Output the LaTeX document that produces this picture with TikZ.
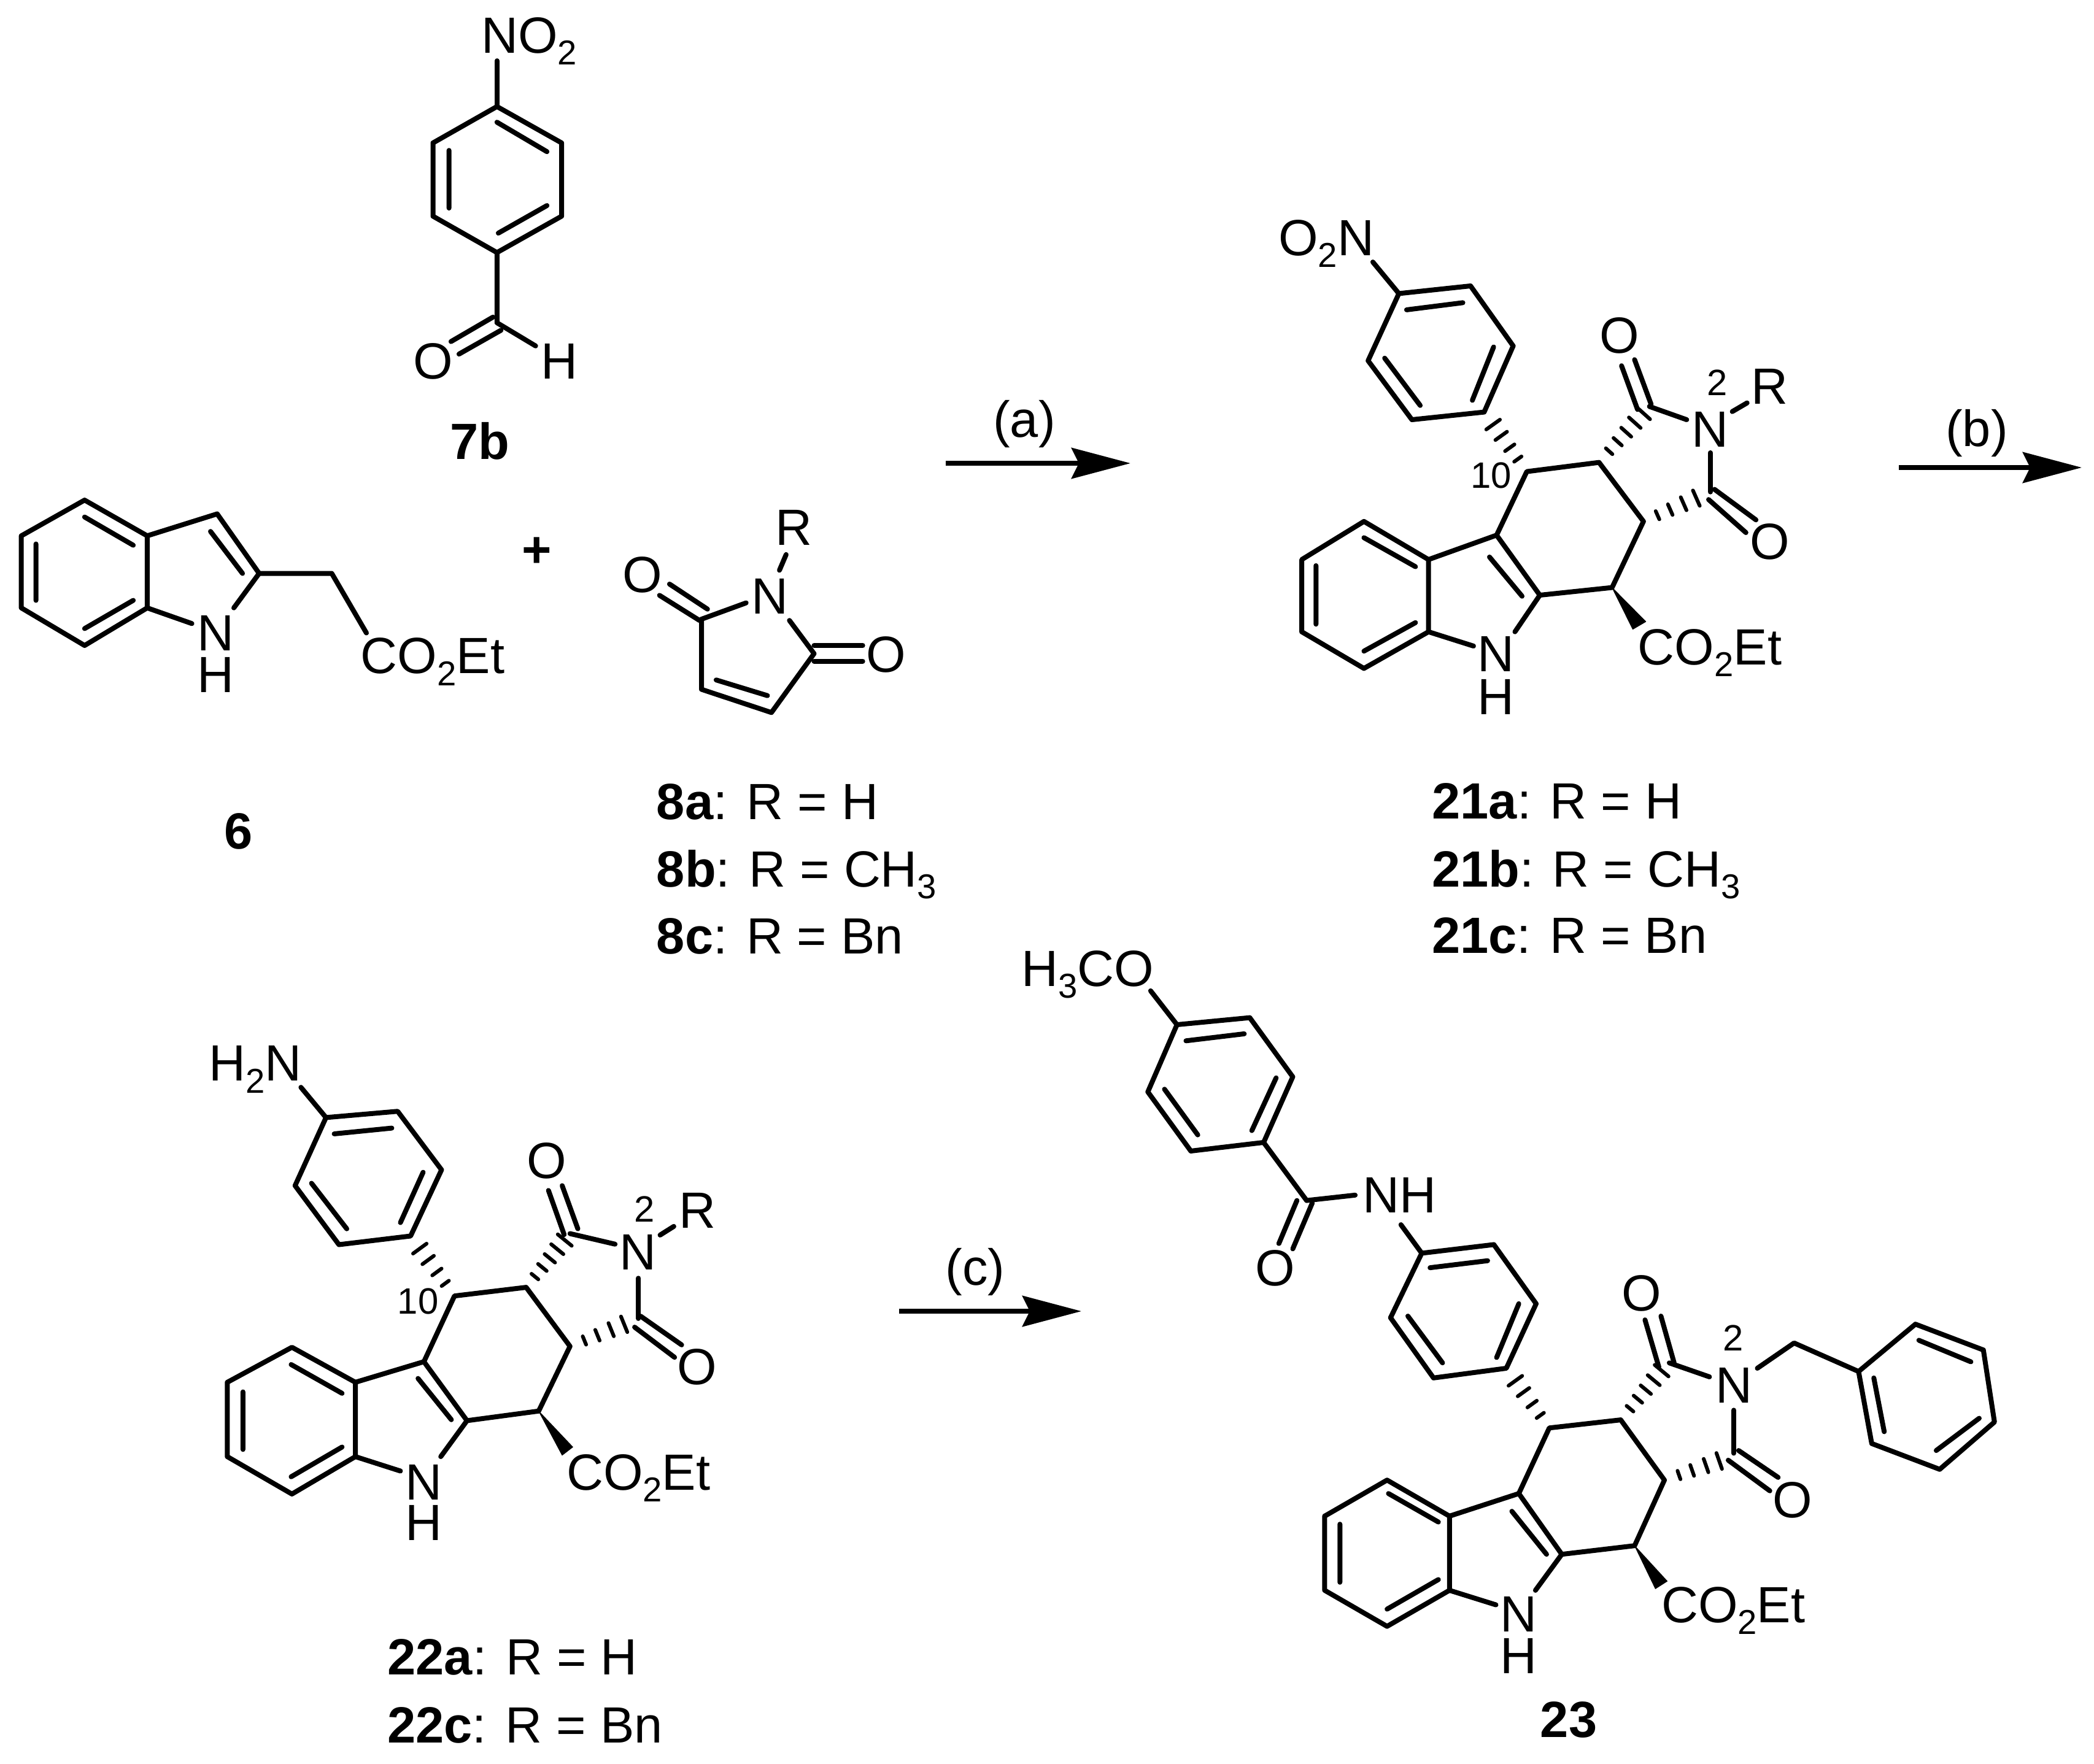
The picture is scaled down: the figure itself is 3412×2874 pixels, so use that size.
\documentclass[tikz,border=0pt]{standalone}
\usepackage{fontspec}
\setmainfont{Liberation Sans}
\usetikzlibrary{calc,arrows.meta}
\newcommand{\lab}{\fontsize{23.6pt}{28pt}\selectfont}
\newcommand{\lsm}{\fontsize{17pt}{18pt}\selectfont}
\newcommand{\sbs}[1]{\raisebox{-0.19cm}{\fontsize{16pt}{17pt}\selectfont #1}}
\newcommand{\hashb}[3]{%
  \foreach \t in #3{%
    \pgfmathsetmacro{\hw}{0.05+0.11*\t}
    \coordinate (hc) at ($(#1)!\t!(#2)$);
    \draw[hashline] ($(hc)!{\hw*1cm}!90:(#2)$) -- ($(hc)!{\hw*1cm}!-90:(#2)$);
  }}
\newcommand{\hfour}{0.21,0.40,0.60,0.79}
\newcommand{\hfive}{0.2,0.37,0.54,0.71,0.88}
\tikzset{
  bond/.style={line width=0.08cm,line cap=round,line join=round},
  hashline/.style={line width=0.06cm,line cap=round},
  wedgefill/.style={fill=black,draw=black,line width=0.01cm,line join=round},
  rxn/.style={line width=0.08cm,-{Stealth[length=0.96cm,width=0.5cm,inset=0.12cm]}},
  atom/.style={inner sep=0pt,anchor=base,font=\lab},
  atomw/.style={inner sep=0pt,anchor=base west,font=\lab},
  num/.style={inner sep=0pt,anchor=base,font=\lsm},
  cpd/.style={inner sep=0pt,anchor=base,font=\lab\bfseries},
  captn/.style={inner sep=0pt,anchor=base west,font=\lab},
}
\begin{document}
\begin{tikzpicture}[x=0.01cm,y=-0.01cm]
\useasboundingbox (0,0) rectangle (3412,2874);
\fill[white] (0,0) rectangle (3412,2874);

% ---------- arrows (full-size pixels)
\coordinate (a1) at (1541,755); \coordinate (a2) at (1842,755);
\coordinate (b1) at (3094,762); \coordinate (b2) at (3392,762);
\coordinate (c1) at (1465,2137); \coordinate (c2) at (1762,2137);
\draw[rxn] (a1) -- (a2);
\draw[rxn] (b1) -- (b2);
\draw[rxn] (c1) -- (c2);
\node[atom] (la) at (1669,712) {(a)};
\node[atom] (lb) at (3221,727) {(b)};
\node[atom] (lc) at (1589,2094) {(c)};

% ---------- 7b, 6, 8
\begin{scope}[x=0.010842cm,y=-0.010204cm]
\node[atomw] (gno) at (722,85) {NO\sbs{2}};
\node[atom] (gh) at (840,605) {H};
\node[atom] (go) at (650,605) {O};
\node[cpd] (g7b) at (720,733) {7b};
\draw[bond] (746,97) -- (746,170);
\draw[bond] (746,170) -- (843,228) -- (843,345) -- (746,403) -- (650,345) -- (650,228) -- cycle;
\draw[bond] (746,195) -- (821,242) (821,328) -- (748,372) (674,240) -- (674,332);
\draw[bond] (746,403) -- (746,515) -- (804,552);
\draw[bond] (740,506) -- (677,545) (752,527) -- (689,565);

\node[atom] (in) at (324,1038) {N};
\node[atom] (ih) at (324,1105) {H};
\node[atomw] (ic) at (541,1075) {CO\sbs{2}Et};
\node[cpd] (i6) at (358,1355) {6};
\draw[bond] (127,798) -- (221,855) -- (221,970) -- (127,1030) -- (32,970) -- (32,855) -- cycle;
\draw[bond] (127,825) -- (200,870) (200,958) -- (127,1003) (54,868) -- (54,958);
\draw[bond] (221,855) -- (326,820) -- (389,915) -- (351,970);
\draw[bond] (221,970) -- (288,995);
\draw[bond] (316,848) -- (364,915);
\draw[bond] (389,915) -- (498,915) -- (550,1010);
\node[cpd] (plus) at (806,905) {+};

\node[atom] (mr) at (1192,870) {R};
\node[atom] (mn) at (1156,980) {N};
\node[atom] (mo1) at (964,945) {O};
\node[atom] (mo2) at (1330,1073) {O};
\draw[bond] (1180,885) -- (1170,910);
\draw[bond] (1120,962) -- (1053,988) -- (1053,1100) -- (1158,1137) -- (1222,1043) -- (1185,990);
\draw[bond] (1075,1085) -- (1152,1110);
\draw[bond] (1005,932) -- (1062,972) (990,950) -- (1050,990);
\draw[bond] (1222,1030) -- (1295,1030) (1222,1055) -- (1295,1055);
\node[captn] (l8a) at (985,1308) {\textbf{8a}: R = H};
\node[captn] (l8b) at (985,1415) {\textbf{8b}: R = CH\sbs{3}};
\node[captn] (l8c) at (985,1522) {\textbf{8c}: R = Bn};
\end{scope}

% ---------- 21
\begin{scope}[xshift=19cm,yshift=-3cm,x=0.009643cm,y=-0.00829cm]
\coordinate (pa) at (536,448); \coordinate (p10) at (608,565); \coordinate (p11) at (730,547);
\coordinate (p12) at (805,663); \coordinate (p13) at (752,793); \coordinate (p14) at (630,808);
\coordinate (p15) at (557,690); \coordinate (pc1) at (815,437); \coordinate (pc2) at (918,605);
\node[atomw] (po2n) at (188,140) {O\sbs{2}N};
\node[atom] (po1) at (764,332) {O};
\node[atom] (pn2) at (918,517) {N};
\node[num] (p2) at (930,415) {2};
\node[atom] (pr) at (1018,432) {R};
\node[atom] (po2) at (1018,738) {O};
\node[atomw] (pe) at (795,945) {CO\sbs{2}Et};
\node[atom] (pn) at (556,958) {N};
\node[atom] (ph) at (556,1042) {H};
\node[num] (pn10) at (548,598) {10};
\draw[bond] (348,153) -- (392,215);
\draw[bond] (392,215) -- (513,200) -- (585,318) -- (pa) -- (414,463) -- (340,347) -- cycle;
\draw[bond] (405,247) -- (500,233) (552,320) -- (516,425) (428,435) -- (368,342);
\hashb{p10}{pa}{\hfour}
\hashb{p11}{pc1}{\hfive}
\hashb{p12}{pc2}{\hfour}
\draw[bond] (p15) -- (p10) -- (p11) -- (p12) -- (p13) -- (p14) -- (p15);
\draw[bond] (545,733) -- (600,810);
\draw[bond] (p15) -- (442,738) (p14) -- (588,880) (442,880) -- (518,908);
\draw[bond] (442,738) -- (442,880) -- (333,952) -- (228,880) -- (228,738) -- (333,663) -- cycle;
\draw[bond] (333,695) -- (420,752) (420,862) -- (333,918) (252,750) -- (252,865);
\draw[bond] (pc1) -- (878,463);
\draw[bond] (790,345) -- (818,433) (768,357) -- (795,443);
\draw[bond] (955,447) -- (980,430);
\draw[bond] (918,528) -- (pc2);
\draw[bond] (925,600) -- (995,660) (915,620) -- (978,685);
\fill[wedgefill] (p13) -- (809,860) -- (787,875) -- cycle;
\node[captn] (l21a) at (447,1248) {\textbf{21a}: R = H};
\node[captn] (l21b) at (447,1381) {\textbf{21b}: R = CH\sbs{3}};
\node[captn] (l21c) at (447,1512) {\textbf{21c}: R = Bn};
\end{scope}

% ---------- 22
\begin{scope}[xshift=3cm,yshift=-16.5cm,x=0.006378cm,y=-0.007806cm]
\coordinate (qa) at (578,465); \coordinate (q10) at (690,590); \coordinate (q11) at (873,572);
\coordinate (q12) at (985,695); \coordinate (q13) at (905,830); \coordinate (q14) at (722,850);
\coordinate (q15) at (612,727); \coordinate (qc1) at (985,460); \coordinate (qc2) at (1160,637);
\node[atomw] (qh2n) at (62,142) {H\sbs{2}N};
\node[atom] (qo1) at (925,345) {O};
\node[atom] (qn2) at (1158,535) {N};
\node[num] (q2) at (1175,435) {2};
\node[atom] (qr) at (1310,448) {R};
\node[atom] (qo2) at (1310,775) {O};
\node[atomw] (qe) at (975,995) {CO\sbs{2}Et};
\node[atom] (qn) at (612,1015) {N};
\node[atom] (qh) at (612,1100) {H};
\node[num] (qn10) at (597,627) {10};
\draw[bond] (298,155) -- (362,218);
\draw[bond] (362,218) -- (545,205) -- (657,327) -- (qa) -- (395,483) -- (283,360) -- cycle;
\draw[bond] (383,252) -- (530,240) (610,332) -- (552,437) (415,450) -- (325,355);
\hashb{q10}{qa}{\hfour}
\hashb{q11}{qc1}{\hfive}
\hashb{q12}{qc2}{\hfour}
\draw[bond] (q15) -- (q10) -- (q11) -- (q12) -- (q13) -- (q14) -- (q15);
\draw[bond] (597,762) -- (682,848);
\draw[bond] (q15) -- (437,770) (q14) -- (655,925) (437,925) -- (552,955);
\draw[bond] (437,770) -- (437,925) -- (275,1003) -- (110,925) -- (110,770) -- (275,697) -- cycle;
\draw[bond] (273,733) -- (403,793) (403,905) -- (273,967) (150,790) -- (150,910);
\draw[bond] (qc1) -- (1100,482);
\draw[bond] (965,360) -- (1005,450) (930,370) -- (970,462);
\draw[bond] (1215,463) -- (1250,445);
\draw[bond] (1160,553) -- (qc2);
\draw[bond] (1165,632) -- (1270,692) (1150,655) -- (1252,718);
\fill[wedgefill] (q13) -- (992,905) -- (965,922) -- cycle;
\node[captn] (l22a) at (518,1380) {\textbf{22a}: R = H};
\node[captn] (l22c) at (518,1522) {\textbf{22c}: R = Bn};
\end{scope}

% ---------- 23
\begin{scope}[xshift=16.4cm,yshift=-15cm,x=0.011298cm,y=-0.008763cm]
\coordinate (ra) at (720,832); \coordinate (r10) at (782,943); \coordinate (r11) at (885,928);
\coordinate (r12) at (948,1040); \coordinate (r13) at (905,1162); \coordinate (r14) at (800,1178);
\coordinate (r15) at (738,1065); \coordinate (rc1) at (952,824); \coordinate (rc2) at (1048,995);
\node[atomw] (rmeo) at (20,122) {H\sbs{3}CO};
\node[atomw] (rnh) at (512,543) {NH};
\node[atom] (rox) at (387,678) {O};
\node[atom] (ro1) at (915,725) {O};
\node[atom] (rn2) at (1048,897) {N};
\node[num] (r2) at (1047,800) {2};
\node[atom] (ro2) at (1133,1110) {O};
\node[atomw] (re) at (943,1305) {CO\sbs{2}Et};
\node[atom] (rn) at (738,1322) {N};
\node[atom] (rh) at (738,1400) {H};
\node[cpd] (r23) at (810,1518) {23};
\draw[bond] (207,130) -- (245,193);
\draw[bond] (245,193) -- (350,180) -- (412,290) -- (370,412) -- (265,428) -- (203,318) -- cycle;
\draw[bond] (258,223) -- (342,210) (388,292) -- (353,390) (275,398) -- (227,313);
\draw[bond] (370,412) -- (432,520) -- (502,510);
\draw[bond] (440,525) -- (412,610) (418,520) -- (392,600);
\draw[bond] (568,565) -- (598,618);
\draw[bond] (598,618) -- (702,602) -- (763,712) -- (ra) -- (615,850) -- (553,738) -- cycle;
\draw[bond] (610,645) -- (693,632) (738,712) -- (706,812) (628,822) -- (578,735);
\hashb{r10}{ra}{\hfour}
\hashb{r11}{rc1}{\hfive}
\hashb{r12}{rc2}{\hfour}
\draw[bond] (r15) -- (r10) -- (r11) -- (r12) -- (r13) -- (r14) -- (r15);
\draw[bond] (728,1098) -- (778,1178);
\draw[bond] (r15) -- (638,1107) (r14) -- (762,1245) (638,1245) -- (705,1272);
\draw[bond] (638,1107) -- (638,1245) -- (548,1312) -- (458,1245) -- (458,1107) -- (548,1040) -- cycle;
\draw[bond] (550,1065) -- (622,1118) (622,1225) -- (548,1280) (480,1122) -- (480,1230);
\draw[bond] (955,822) -- (1013,848);
\draw[bond] (943,735) -- (962,822) (920,742) -- (940,830);
\draw[bond] (1082,832) -- (1135,785) -- (1228,838);
\draw[bond] (1228,838) -- (1310,750) -- (1408,798) -- (1424,932) -- (1345,1020) -- (1247,972) -- cycle;
\draw[bond] (1315,780) -- (1390,820) (1402,925) -- (1340,985) (1265,950) -- (1250,850);
\draw[bond] (1048,910) -- (1048,990);
\draw[bond] (1055,985) -- (1112,1035) (1040,1003) -- (1100,1060);
\fill[wedgefill] (r13) -- (952,1228) -- (935,1242) -- cycle;
\end{scope}
\end{tikzpicture}
\end{document}
